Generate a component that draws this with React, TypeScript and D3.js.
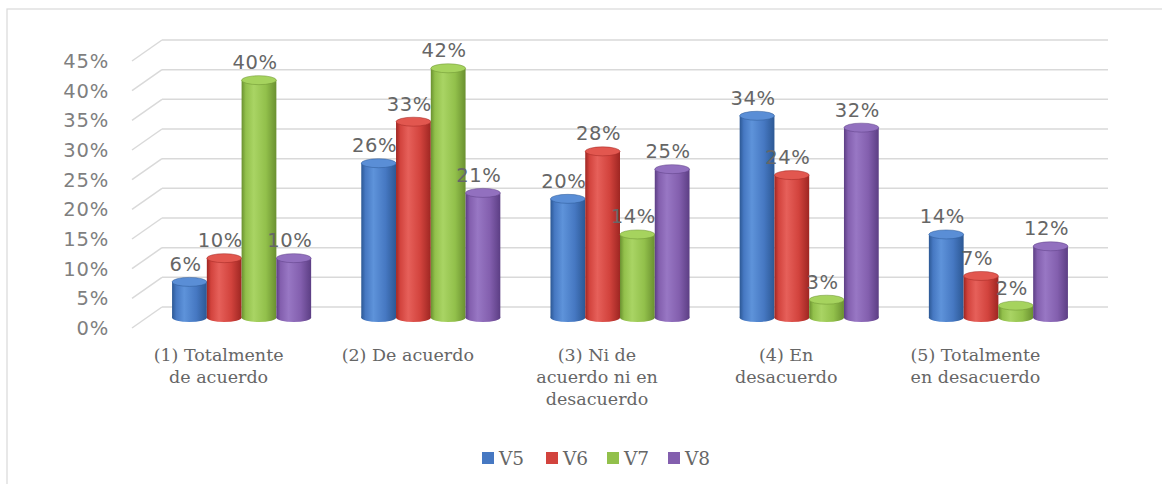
import React from "react";
import * as d3 from "d3";

const categories = ["c1", "c2", "c3", "c4", "c5"];
const categoryLines: string[][] = [
  ["(1) Totalmente", "de acuerdo"],
  ["(2) De acuerdo"],
  ["(3) Ni de", "acuerdo ni en", "desacuerdo"],
  ["(4) En", "desacuerdo"],
  ["(5) Totalmente", "en desacuerdo"],
];
const seriesNames = ["V5", "V6", "V7", "V8"];
const V5 = [6, 26, 20, 34, 14];
const V6 = [10, 33, 28, 24, 7];
const V7 = [40, 42, 14, 3, 2];
const V8 = [10, 21, 25, 32, 12];
const seriesValues = [V5, V6, V7, V8];
const yTicks = [0, 5, 10, 15, 20, 25, 30, 35, 40, 45];

const palette = [
  { base: "#4678c2", light: "#5e93da", dark: "#2c5894", top: "#5a8ed6" },
  { base: "#d2433d", light: "#e6605a", dark: "#9e2622", top: "#e2574f" },
  { base: "#92c04b", light: "#a9d464", dark: "#6a9030", top: "#a6d35e" },
  { base: "#835fae", light: "#9877c4", dark: "#5c3e84", top: "#9270bf" },
];

const W = 1162;
const H = 484;
const DX = -30;
const DY = 21;

export default function App() {
  const y = d3.scaleLinear().domain([0, 45]).range([307, 40]);
  const x = d3
    .scaleBand<string>()
    .domain(categories)
    .range([162, 1108])
    .paddingInner(0.265)
    .paddingOuter(0.1325);
  const xs = d3
    .scaleBand<string>()
    .domain(seriesNames)
    .range([0, x.bandwidth()])
    .padding(0);
  const mdx = DX / 2;
  const mdy = DY / 2;
  const ry = 4.5;

  return (
    <svg
      width={W}
      height={H}
      style={{ position: "absolute", left: 0, top: 0, background: "#fff" }}
    >
      <defs>
        {palette.map((p, i) => (
          <linearGradient key={i} id={`g${i}`} x1="0" x2="1" y1="0" y2="0">
            <stop offset="0" stopColor={p.dark} />
            <stop offset="0.12" stopColor={p.base} />
            <stop offset="0.35" stopColor={p.light} />
            <stop offset="0.7" stopColor={p.base} />
            <stop offset="1" stopColor={p.dark} />
          </linearGradient>
        ))}
      </defs>
      <rect x={7} y={9} width={W} height={H} fill="none" stroke="#d9d9d9" strokeWidth={1.2} />
      {/* gridlines */}
      {yTicks.map((t) => (
        <g key={t}>
          <line x1={162} x2={1108} y1={y(t)} y2={y(t)} stroke="#d9d9d9" strokeWidth={1.5} />
          <line x1={162 + DX} x2={162} y1={y(t) + DY} y2={y(t)} stroke="#d9d9d9" strokeWidth={1.5} />
          <text
            x={109}
            y={y(t) + DY + 7}
            textAnchor="end"
            fontFamily="DejaVu Sans, Verdana, sans-serif"
            fontSize={19.5}
            letterSpacing={0.8}
            fill="#7f7f7f"
          >
            {t + "%"}
          </text>
        </g>
      ))}
      {/* bars */}
      {categories.map((c, ci) => (
        <g key={c}>
          {seriesNames.map((s, si) => {
            const v = seriesValues[si][ci];
            const bx = (x(c) as number) + (xs(s) as number) + mdx;
            const bw = xs.bandwidth();
            const yb = y(0) + mdy;
            const yt = y(v) + mdy;
            const cx = bx + bw / 2;
            const p = palette[si];
            return (
              <g key={s}>
                <ellipse cx={cx} cy={yb} rx={bw / 2} ry={ry} fill={`url(#g${si})`} />
                <rect x={bx} y={yt} width={bw} height={yb - yt} fill={`url(#g${si})`} />
                <ellipse cx={cx} cy={yt} rx={bw / 2} ry={ry} fill={p.top} stroke={p.dark} strokeWidth={0.5} />
                <text
                  x={cx - 4}
                  y={yt - 11}
                  textAnchor="middle"
                  fontFamily="DejaVu Sans, Verdana, sans-serif"
                  fontSize={19.5}
                  letterSpacing={0.6}
                  fill="#666"
                >
                  {v + "%"}
                </text>
              </g>
            );
          })}
          {categoryLines[ci].map((line, li) => (
            <text
              key={li}
              x={(x(c) as number) + x.bandwidth() / 2 + mdx - 23}
              y={361 + li * 22}
              textAnchor="middle"
              fontFamily="DejaVu Serif, serif"
              fontSize={17.5}
              fill="#666"
            >
              {line}
            </text>
          ))}
        </g>
      ))}
      {/* legend */}
      {seriesNames.map((s, i) => {
        const lx = [482, 546, 607, 668][i];
        return (
          <g key={s}>
            <rect x={lx} y={452} width={12} height={12} fill={palette[i].base} />
            <text
              x={lx + 17}
              y={465}
              fontFamily="DejaVu Serif, serif"
              fontSize={18.5}
              fill="#666"
            >
              {s}
            </text>
          </g>
        );
      })}
    </svg>
  );
}
